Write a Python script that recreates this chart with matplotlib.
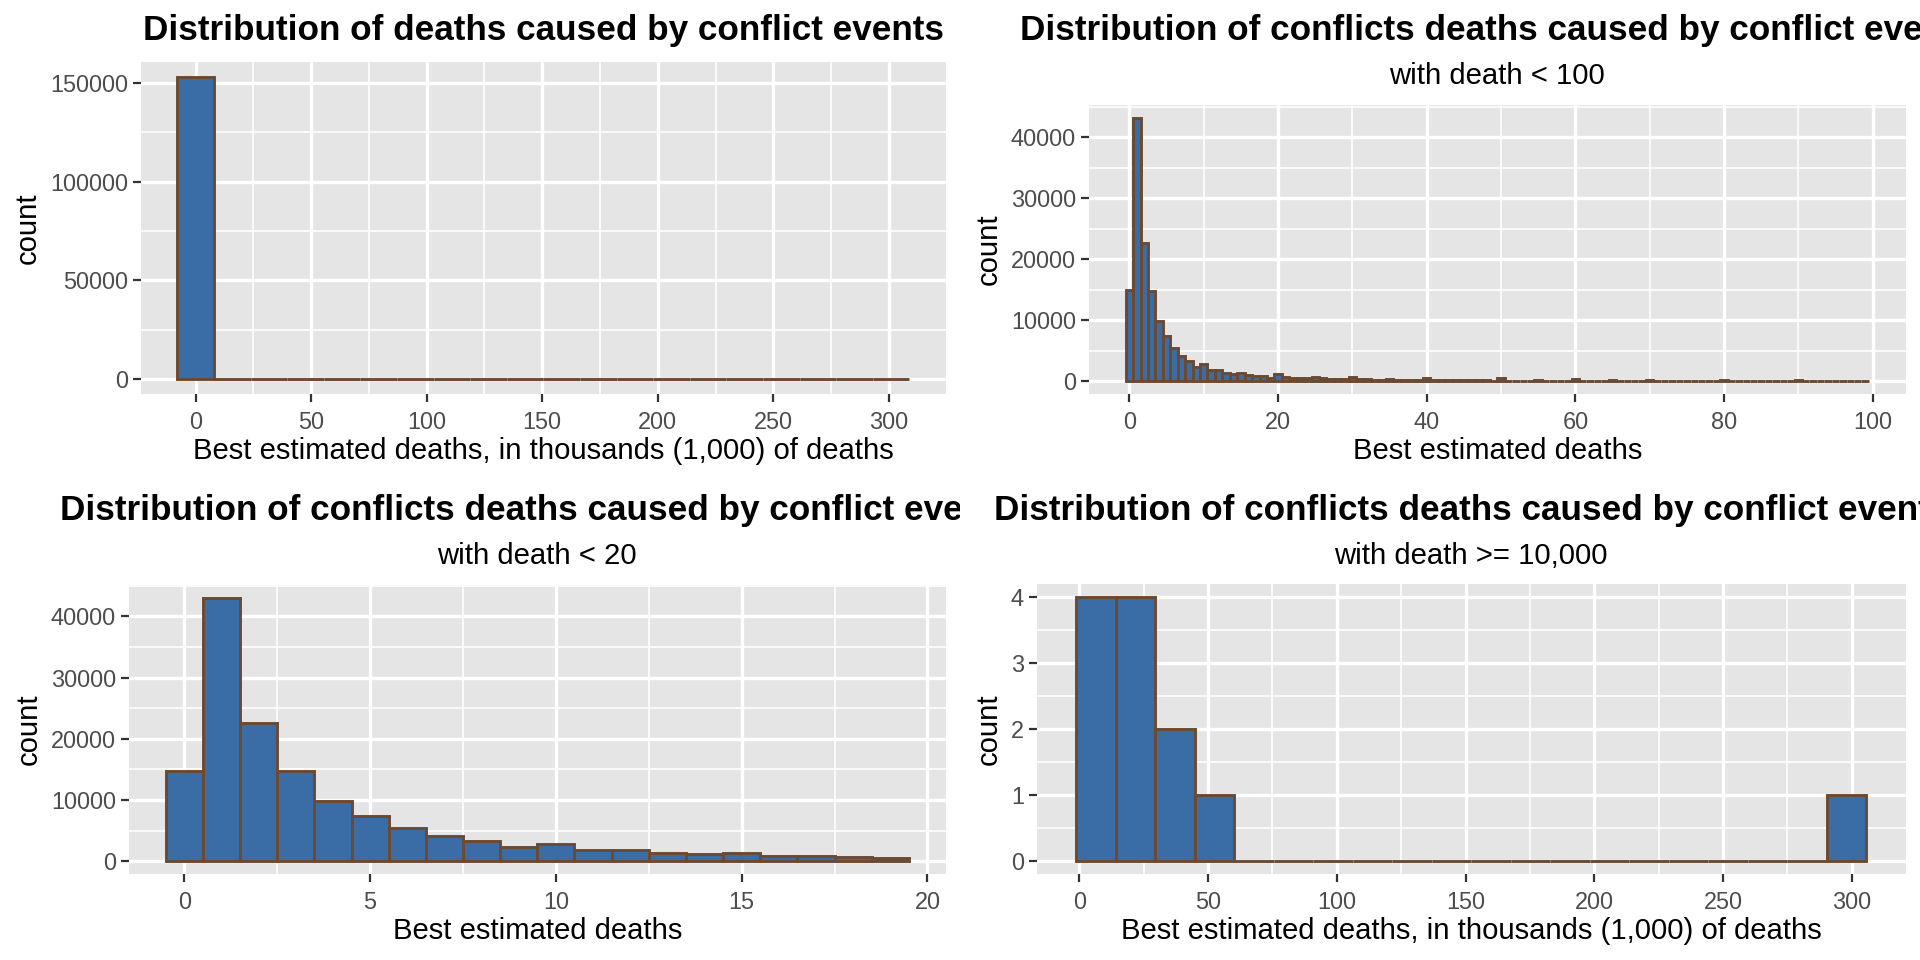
import numpy as np
import matplotlib
matplotlib.use("Agg")
import matplotlib.pyplot as plt
from matplotlib.ticker import MultipleLocator, FuncFormatter
from matplotlib.transforms import Bbox, TransformedBbox

# ---------------- data ----------------
# Panel 1: all events, deaths in thousands (20 bins)
tl_bin_start = -7.92
tl_bin_width = 15.84
tl_counts = [153200, 7, 3, 2, 0, 0, 0, 0, 0, 0, 0, 0, 0, 0, 0, 0, 0, 0, 0, 1]

# Panel 2: deaths < 100 (bins of width 1, centred on 0..99)
tr_bin_start = -0.5
tr_bin_width = 1.0
tr_counts = [
    14900, 43100, 22600, 14700, 9900, 7400, 5400, 4100, 3300, 2300,
    2800, 1800, 1850, 1400, 1150, 1400, 950, 850, 780, 580,
    1100, 620, 540, 480, 560, 680, 470, 400, 390, 300,
    650, 300, 280, 250, 230, 380, 220, 200, 190, 160,
    520, 170, 160, 140, 130, 260, 120, 110, 110, 90,
    480, 100, 90, 80, 80, 140, 80, 70, 70, 60,
    300, 60, 55, 50, 50, 110, 45, 45, 40, 40,
    220, 40, 40, 35, 35, 90, 35, 30, 30, 30,
    180, 30, 28, 26, 25, 60, 24, 22, 22, 20,
    110, 20, 18, 18, 17, 45, 16, 15, 15, 14,
]

# Panel 3: deaths < 20
bl_bin_start = -0.5
bl_bin_width = 1.0
bl_counts = [14800, 43000, 22600, 14700, 9900, 7400, 5400, 4100, 3300, 2300,
             2800, 1800, 1850, 1400, 1150, 1400, 920, 800, 750, 550]

# Panel 4: deaths >= 10,000, in thousands (20 bins)
br_bin_start = -1.3
br_bin_width = 15.35
br_counts = [4, 4, 2, 1, 0, 0, 0, 0, 0, 0, 0, 0, 0, 0, 0, 0, 0, 0, 0, 1]

title_all = "Distribution of deaths caused by conflict events"
title_sub = "Distribution of conflicts deaths caused by conflict events"
xlab_k = "Best estimated deaths, in thousands (1,000) of deaths"
xlab = "Best estimated deaths"

panels = [
    dict(start=tl_bin_start, width=tl_bin_width, counts=tl_counts,
         title=title_all, subtitle=None, xlabel=xlab_k,
         xmaj=50, xmin=25, ymaj=50000, ymin=25000,
         rect=(140.7, 61.7, 946, 394.3), cell=(0, 0, 960, 480)),
    dict(start=tr_bin_start, width=tr_bin_width, counts=tr_counts,
         title=title_sub, subtitle="with death < 100", xlabel=xlab,
         xmaj=20, xmin=10, ymaj=10000, ymin=5000,
         rect=(1088.6, 105, 1906, 394.3), cell=(960, 0, 1920, 480)),
    dict(start=bl_bin_start, width=bl_bin_width, counts=bl_counts,
         title=title_sub, subtitle="with death < 20", xlabel=xlab,
         xmaj=5, xmin=2.5, ymaj=10000, ymin=5000,
         rect=(128.6, 585, 946, 874.3), cell=(0, 480, 960, 960)),
    dict(start=br_bin_start, width=br_bin_width, counts=br_counts,
         title=title_sub, subtitle="with death >= 10,000", xlabel=xlab_k,
         xmaj=50, xmin=25, ymaj=1, ymin=0.5,
         rect=(1036.5, 584, 1906, 874.3), cell=(960, 480, 1920, 960)),
]

# ---------------- style ----------------
W, H = 1920, 960
FONT = "Liberation Sans"
plt.rcParams["font.family"] = [FONT, "DejaVu Sans"]
FILL = "#3A6DA5"
EDGE = "#6B4A33"
PANEL_BG = "#E5E5E5"
TITLE_SIZE = 25.3
SUB_SIZE = 21.1
AXT_SIZE = 21.1
TICK_SIZE = 16.9

fig = plt.figure(figsize=(W / 100, H / 100), dpi=100)
fig.patch.set_facecolor("white")

fmt = FuncFormatter(lambda v, p: f"{int(round(v))}" if abs(v - round(v)) < 1e-9 else f"{v:g}")

for p in panels:
    x0, y0, x1, y1 = p["rect"]
    ax = fig.add_axes([x0 / W, 1 - y1 / H, (x1 - x0) / W, (y1 - y0) / H])
    ax.set_facecolor(PANEL_BG)
    for s in ax.spines.values():
        s.set_visible(False)

    counts = np.asarray(p["counts"], dtype=float)
    n = len(counts)
    lefts = p["start"] + p["width"] * np.arange(n)
    ax.bar(lefts, counts, width=p["width"], align="edge", color=FILL,
           edgecolor=EDGE, linewidth=2.1, zorder=3)

    lo = lefts[0]
    hi = lefts[-1] + p["width"]
    pad = 0.05 * (hi - lo)
    ax.set_xlim(lo - pad, hi + pad)
    cmax = counts.max()
    ax.set_ylim(-0.05 * cmax, 1.05 * cmax)

    ax.xaxis.set_major_locator(MultipleLocator(p["xmaj"]))
    ax.xaxis.set_minor_locator(MultipleLocator(p["xmin"]))
    ax.yaxis.set_major_locator(MultipleLocator(p["ymaj"]))
    ax.yaxis.set_minor_locator(MultipleLocator(p["ymin"]))
    ax.xaxis.set_major_formatter(fmt)
    ax.yaxis.set_major_formatter(fmt)

    ax.grid(which="major", color="white", linewidth=2.4, zorder=0)
    ax.grid(which="minor", color="white", linewidth=1.2, zorder=0)
    ax.set_axisbelow(True)

    ax.tick_params(which="major", length=5.5, width=1.6, color="#333333",
                   labelsize=TICK_SIZE, labelcolor="#4D4D4D", pad=3.5)
    ax.tick_params(axis="x", which="major", pad=6.5)
    ax.tick_params(which="minor", length=0)

    ax.set_xlabel(p["xlabel"], fontsize=AXT_SIZE, color="black", labelpad=2)
    ax.set_ylabel("count", fontsize=AXT_SIZE, color="black", labelpad=6)

    # titles, centred on the panel and clipped to the cell (as in the reference)
    cx0, cy0, cx1, cy1 = p["cell"]
    clip = TransformedBbox(Bbox.from_extents(cx0 / W, 1 - cy1 / H, cx1 / W, 1 - cy0 / H),
                           fig.transFigure)
    xc = (x0 + x1) / 2 / W
    t = fig.text(xc, 1 - (cy0 + 40) / H, p["title"], ha="center", va="baseline",
                 fontsize=TITLE_SIZE, fontweight="bold", color="black")
    t.set_clip_box(clip)
    t.set_clip_on(True)
    if p["subtitle"]:
        st = fig.text(xc, 1 - (cy0 + 83.5) / H, p["subtitle"], ha="center",
                      va="baseline", fontsize=SUB_SIZE, color="black")
        st.set_clip_box(clip)
        st.set_clip_on(True)

fig.savefig("out.png", dpi=100)
